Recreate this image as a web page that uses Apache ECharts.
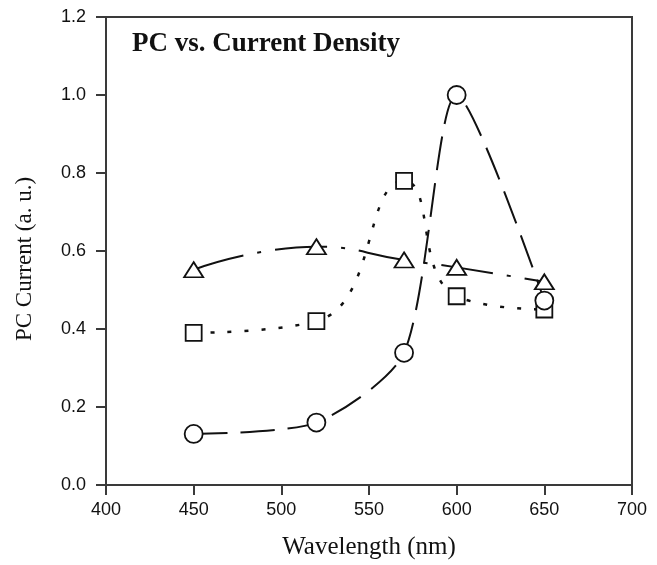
<!DOCTYPE html>
<html>
<head>
<meta charset="utf-8">
<script src="https://cdn.jsdelivr.net/npm/echarts@6/dist/echarts.min.js"></script>
<style>html,body{margin:0;padding:0;background:#fff}#c{width:657px;height:565px}</style>
</head>
<body>
<div id="c"></div>
<script>
const wavelengths = [450, 520, 570, 600, 650];
const circleValues = [0.131, 0.160, 0.339, 1.000, 0.473];
const squareValues = [0.390, 0.420, 0.780, 0.484, 0.450];
const triangleValues = [0.552, 0.611, 0.577, 0.558, 0.521];
const xTicks = [400, 450, 500, 550, 600, 650, 700];
const yTicks = [0.0, 0.2, 0.4, 0.6, 0.8, 1.0, 1.2];

const pairs = vals => wavelengths.map((w, i) => [w, vals[i]]);
const chart = echarts.init(document.getElementById('c'), null, {renderer: 'canvas'});
const axisColor = '#3a3a3a';
const ink = '#111';
const serif = '"Liberation Serif", "Times New Roman", serif';
const sans = '"Liberation Sans", Arial, sans-serif';

function lineSeries(name, vals, symbol, size, dash, width, smooth) {
  return {
    name, type: 'line', data: pairs(vals), smooth: smooth,
    symbol, symbolSize: size, showSymbol: true,
    itemStyle: {color: '#fff', borderColor: ink, borderWidth: 1.8},
    lineStyle: {color: ink, width: width, type: dash, cap: 'butt'},
    emphasis: {disabled: true}, animation: false
  };
}

chart.setOption({
  animation: false,
  grid: {left: 106, right: 25, top: 17, bottom: 78, show: true, borderColor: axisColor, borderWidth: 2, backgroundColor: 'transparent'},
  title: {
    text: 'PC vs. Current Density', left: 132, top: 31, padding: 0,
    textStyle: {fontFamily: serif, fontWeight: 'bold', fontSize: 27, color: ink}
  },
  xAxis: {
    type: 'value', min: xTicks[0], max: xTicks[xTicks.length - 1], interval: 50,
    name: 'Wavelength (nm)', nameLocation: 'middle', nameGap: 50,
    nameTextStyle: {fontFamily: serif, fontSize: 25, color: ink},
    axisLine: {show: true, onZero: false, lineStyle: {color: axisColor, width: 2}},
    axisTick: {show: true, inside: false, length: 10, lineStyle: {color: axisColor, width: 2}},
    axisLabel: {margin: 16, fontFamily: sans, fontSize: 18, color: ink},
    splitLine: {show: false}
  },
  yAxis: {
    type: 'value', min: yTicks[0], max: yTicks[yTicks.length - 1], interval: 0.2,
    name: 'PC Current (a. u.)', nameLocation: 'middle', nameGap: 70,
    nameTextStyle: {fontFamily: serif, fontSize: 23, color: ink, padding: [0, 16, 0, 0]},
    axisLine: {show: true, lineStyle: {color: axisColor, width: 2}},
    axisTick: {show: true, inside: false, length: 10, lineStyle: {color: axisColor, width: 2}},
    axisLabel: {margin: 20, fontFamily: sans, fontSize: 18, color: ink, formatter: v => v.toFixed(1)},
    splitLine: {show: false}
  },
  series: [
    lineSeries('Triangle', triangleValues, 'triangle', [19, 15], [52, 14, 4, 14], 2, 0.5),
    lineSeries('Square', squareValues, 'rect', 16, [4, 13], 2.5, 0.5),
    lineSeries('Circle', circleValues, 'circle', 18, [34, 13], 2, 0.25)
  ]
});
</script>
</body>
</html>
